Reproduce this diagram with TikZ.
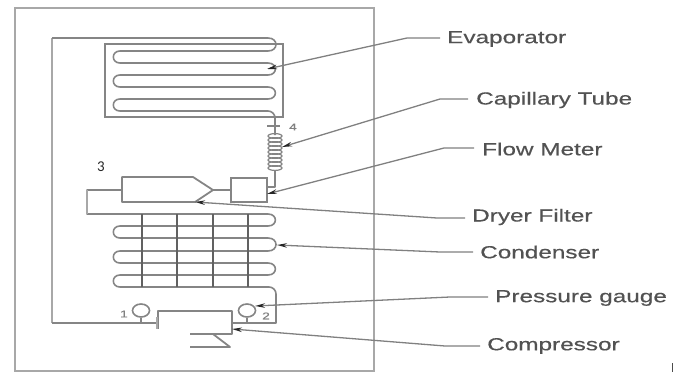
\documentclass[tikz,border=0pt]{standalone}
\usepackage{fontspec}
\usetikzlibrary{arrows.meta, shapes.geometric}
\newfontfamily\labelfont[FakeStretch=1.39, FakeBold=0.4]{Liberation Sans}
\newfontfamily\numfont{Carlito}
\definecolor{pipegray}{gray}{0.52}
\definecolor{framegray}{gray}{0.66}
\definecolor{textgray}{gray}{0.32}

\begin{document}
\begin{tikzpicture}[
    x=1pt, y=-1pt,
    pipe/.style={draw=pipegray, line width=1.6pt, line join=round},
    heavy/.style={draw=framegray, line width=2.6pt},
    fin/.style={draw=black!62, line width=1.2pt},
    rbend/.style={out=0, in=0, looseness=2.1},
    lbend/.style={out=180, in=180, looseness=1.9},
    unit/.style={draw=pipegray, line width=1.8pt, inner sep=0pt, minimum width=#1},
    gauge/.style={ellipse, draw=pipegray, line width=1.6pt, inner sep=0pt, minimum width=17pt, minimum height=13pt},
    partlabel/.style={anchor=west, inner sep=0pt, text=textgray, font=\labelfont\fontsize{17.5}{20}\selectfont},
    tag/.style={inner sep=0pt, text=gray, font=\labelfont\fontsize{10}{11}\selectfont},
    leader/.style={draw=black!50, line width=1.3pt, -{Stealth[length=10pt,width=4.5pt,color=black!85]}}
]
\useasboundingbox (0,0) rectangle (679,372);

% cabinet
\draw[heavy] (15,8) rectangle (374,371);

% evaporator
\node[unit=178pt, minimum height=73pt] (evapbox) at (194,80.5) {};
\draw[pipe] (268,38) to[rbend] (268,51) -- (120,51) to[lbend] (120,63)
    -- (268,63) to[rbend] (268,75) -- (120,75) to[lbend] (120,87)
    -- (268,87) to[rbend] (268,99) -- (120,99) to[lbend] (120,111)
    [rounded corners=7pt] -- (275,111) -- (275,135);
\draw[pipe] (267,126) -- (280,126);
\node[tag] (four) at (293,127) {4};

% capillary coil
\foreach \y in {136,140,...,168}
    \draw[pipe, line width=1.2pt] (275,\y) ellipse (7pt and 2.4pt);
\coordinate (coilend) at (275,170);

% flow meter and filter
\node[unit=36pt, minimum height=24pt] (flowbox) at (249,190) {};
\draw[pipe] (coilend) -- (275,187) -- (flowbox.east |- 0,187);
\draw[pipe, line width=1.8pt] (122,177) -- (193,177) -- (213,190) -- (195,202) -- (122,202) -- cycle;
\coordinate (filtertip) at (213,190);
\draw[pipe] (filtertip) -- (flowbox.west);
\node[inner sep=0pt, text=black!85, font=\numfont\fontsize{15}{16}\selectfont] (three) at (101,167) {3};

% condenser
\draw[pipe] (122,190) -- (87,190) -- (87,214) -- (268,214) to[rbend] (268,226)
    -- (120,226) to[lbend] (120,238) -- (268,238) to[rbend] (268,251)
    -- (120,251) to[lbend] (120,263) -- (268,263) to[rbend] (268,275)
    -- (120,275) to[lbend] (120,287) [rounded corners=7pt] -- (276,287) [sharp corners] -- (276,323) -- (232,323);
\draw[draw=framegray, line width=2.2pt] (87,190) -- (87,214);
\foreach \x in {142,177,213,248}
    \draw[fin] (\x,214) -- (\x,287);

% suction line
\draw[heavy, line width=2.4pt] (52,323) -- (52,38);
\draw[pipe] (158,323) -- (52,323);
\draw[pipe] (52,38) -- (268,38);

% compressor
\draw[pipe, line width=1.8pt] (158,329) -- (158,311) -- (232,311) -- (232,334) -- (190,334);
\draw[pipe, line width=1.8pt] (190,347) -- (230,347) -- (213,334);
\draw[heavy, line width=1.8pt] (157,317) -- (157,329);

% gauges
\node[gauge] (gaugeone) at (141,310.5) {};
\node[gauge] (gaugetwo) at (247,310.5) {};
\draw[pipe] (gaugeone) -- (141,323);
\draw[pipe] (gaugetwo) -- (247,323);
\node[tag] (one) at (124,314) {1};
\node[tag] (two) at (266,316) {2};

% labels
\node[partlabel] (evaporator) at (447,39) {Evaporator};
\node[partlabel] (capillary) at (476,100) {Capillary Tube};
\node[partlabel] (flowmeter) at (482,149) {Flow Meter};
\node[partlabel] (dryer) at (472,217) {Dryer Filter};
\node[partlabel] (condenser) at (480,252) {Condenser};
\node[partlabel] (pgauge) at (495,298) {Pressure gauge};
\node[partlabel] (compressor) at (487,346) {Compressor};

\coordinate (evaptip) at (267,69);
\coordinate (captip) at (282,147);
\coordinate (flowtip) at (267,194);
\coordinate (dryertip) at (195,202);
\coordinate (condtip) at (277,245);
\coordinate (gaugetip) at (255,306);
\coordinate (comptip) at (232,329);

\draw[leader] (evaporator.west) ++(-7,-1) -- ++(-33,0) -- (evaptip);
\draw[leader] (capillary.west) ++(-8,-1) -- ++(-28,0) -- (captip);
\draw[leader] (flowmeter.west) ++(-8,-1) -- ++(-30,0) -- (flowtip);
\draw[leader] (dryer.west) ++(-7,1) -- ++(-28,0) -- (dryertip);
\draw[leader] (condenser.west) ++(-7,0) -- ++(-33,0) -- (condtip);
\draw[leader] (pgauge.west) ++(-7,-1) -- ++(-38,0) -- (gaugetip);
\draw[leader] (compressor.west) ++(-7,0) -- ++(-35,0) -- (comptip);

% stray mark at the corner
\draw[black!70, line width=1pt] (672,363) -- (672,372);
\end{tikzpicture}
\end{document}
